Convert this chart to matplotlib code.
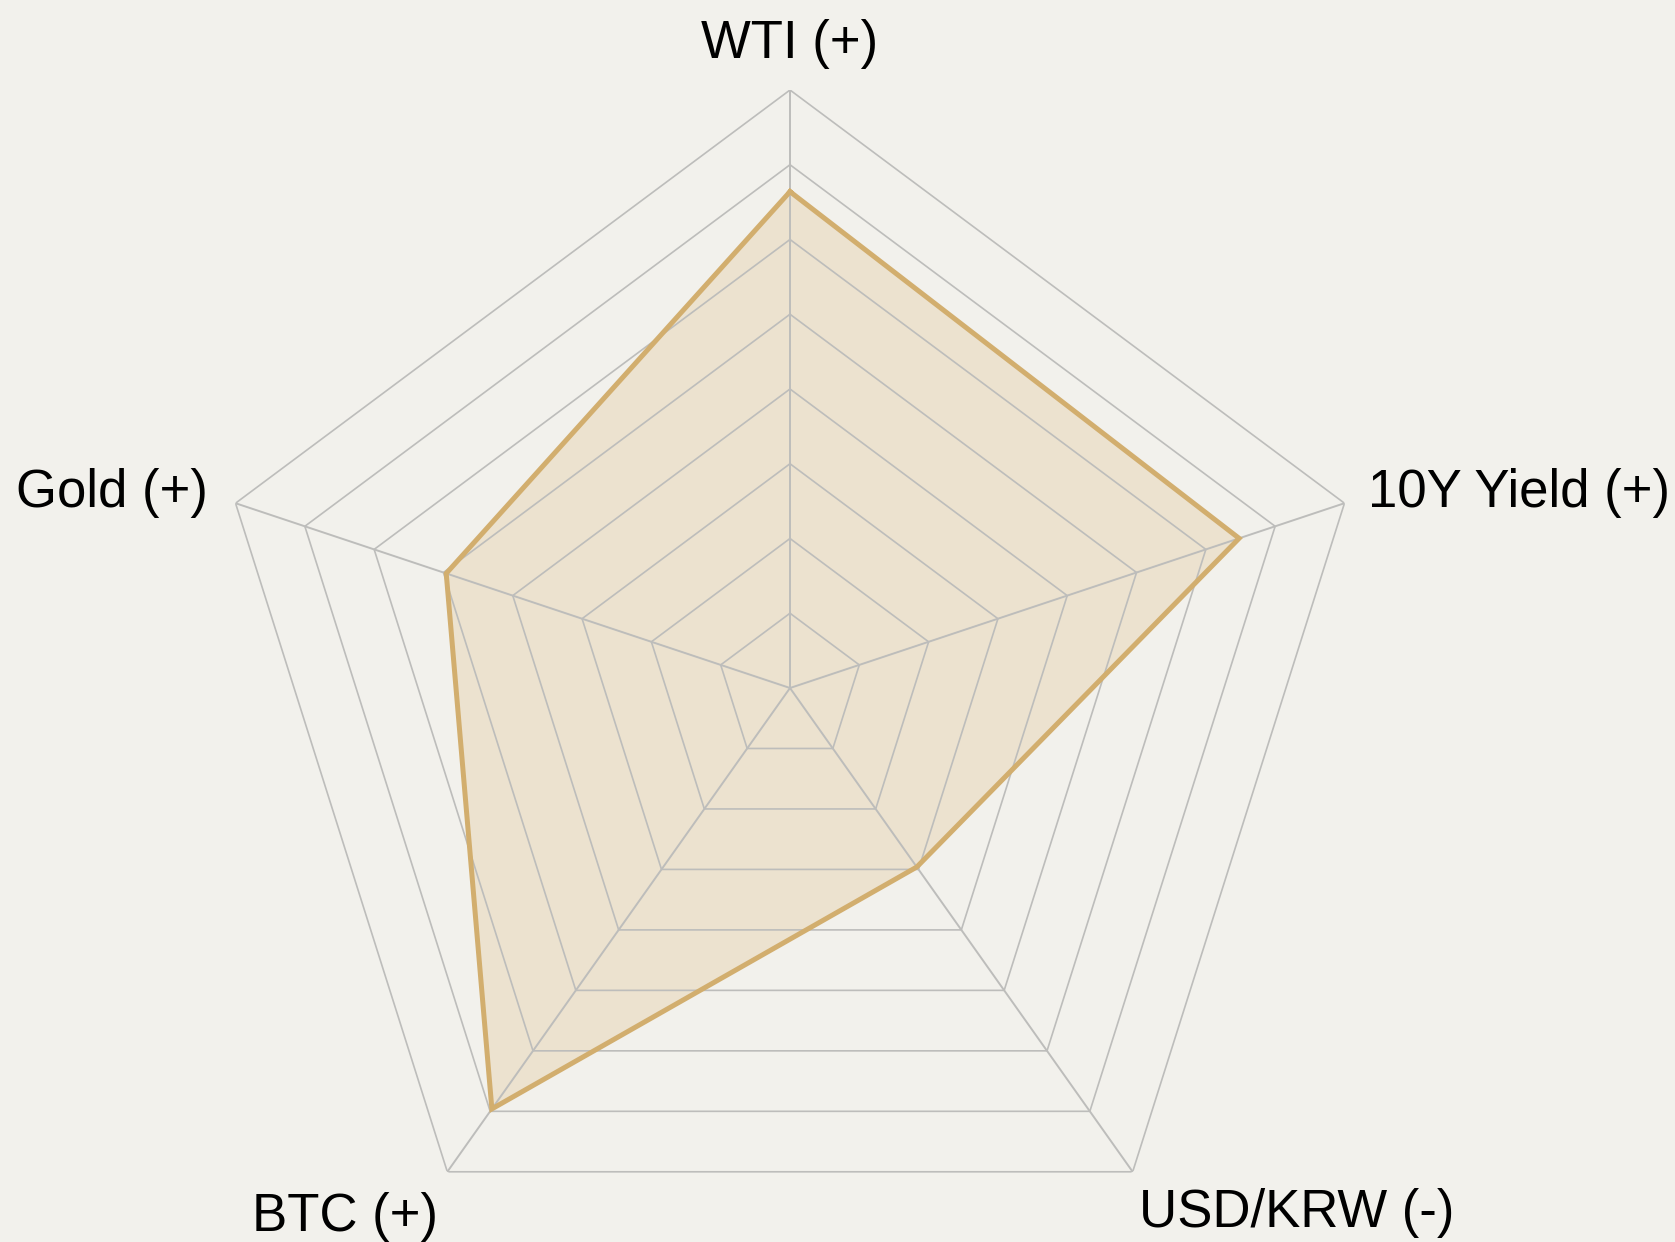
import numpy as np
import matplotlib.pyplot as plt

# --- data ---
labels = ['WTI (+)', '10Y Yield (+)', 'USD/KRW (-)', 'BTC (+)', 'Gold (+)']
scores = [83, 81, 37, 87, 62]
ring_levels = [12.5, 25, 37.5, 50, 62.5, 75, 87.5, 100]

bg = '#F2F1EC'
grid_col = '#BDBDBB'
line_col = '#D2AE6E'
fill_col = '#E3CBA0'

W, H = 1675, 1242
fig = plt.figure(figsize=(W / 100, H / 100), dpi=100, facecolor=bg)

# center (790, 688) px, radii slightly stretched vertically like the reference
cx, cy, Rx, Ry = 790, 688, 583, 598
ax = fig.add_axes([(cx - Rx) / W, (H - cy - Ry) / H, 2 * Rx / W, 2 * Ry / H],
                  projection='polar', facecolor='none')
ax.set_aspect('auto')
ax.set_theta_offset(np.pi / 2)
ax.set_theta_direction(-1)
ax.set_ylim(0, 100)
ax.grid(False)
ax.set_xticks([])
ax.set_yticks([])
ax.spines['polar'].set_visible(False)

n = len(labels)
angles = np.linspace(0, 2 * np.pi, n, endpoint=False)
closed = np.append(angles, angles[0])

# pentagon rings
for lv in ring_levels:
    ax.plot(closed, [lv] * (n + 1), color=grid_col, lw=1.2, zorder=2)
# spokes
for a in angles:
    ax.plot([a, a], [0, ring_levels[-1]], color=grid_col, lw=1.4, zorder=2)

vals = scores + scores[:1]
ax.fill(closed, vals, color=fill_col, alpha=0.38, zorder=1, lw=0)
ax.plot(closed, vals, color=line_col, lw=3.6, zorder=3, solid_joinstyle='miter')

# axis labels
fs = 38
font = 'Liberation Sans'
fig.text(790 / W, 1 - 44 / H, labels[0], ha='center', va='center', fontsize=fs, family=font)
fig.text(1368 / W, 1 - 493 / H, labels[1], ha='left', va='center', fontsize=fs, family=font)
fig.text(1297 / W, 1 - 1213 / H, labels[2], ha='center', va='center', fontsize=fs, family=font)
fig.text(345 / W, 1 - 1217 / H, labels[3], ha='center', va='center', fontsize=fs, family=font)
fig.text(208 / W, 1 - 493 / H, labels[4], ha='right', va='center', fontsize=fs, family=font)

fig.savefig('out.png', dpi=100, facecolor=bg)
